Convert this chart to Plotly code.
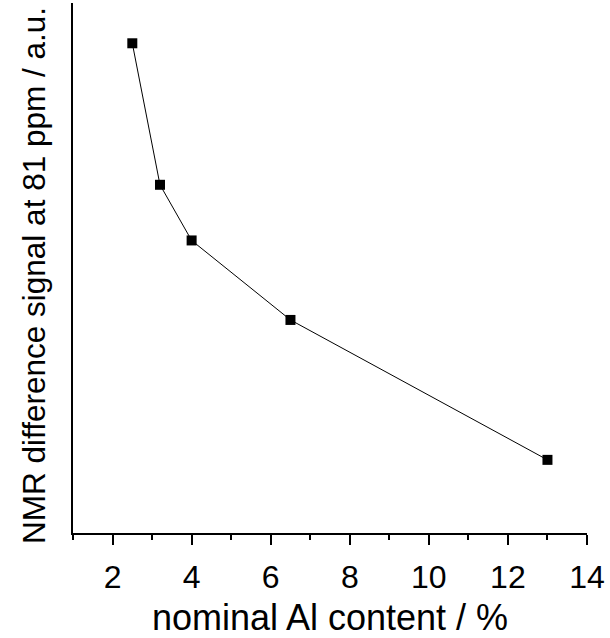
import plotly.graph_objects as go

al_content = [2.5, 3.2, 4.0, 6.5, 13.0]
nmr_signal = [92.4, 65.7, 55.2, 40.2, 13.8]
x_ticks = [2, 4, 6, 8, 10, 12, 14]

fig = go.Figure()
fig.add_trace(go.Scatter(
    x=al_content, y=nmr_signal, mode="lines+markers",
    line=dict(color="black", width=1),
    marker=dict(symbol="square", size=10, color="black"),
    showlegend=False,
))

font = "Liberation Sans, Arial, sans-serif"
fig.update_layout(
    width=610, height=638,
    margin=dict(l=73, r=23, t=3, b=105),
    paper_bgcolor="white", plot_bgcolor="white",
    font=dict(family=font, color="black"),
)
fig.update_xaxes(
    range=[1, 14], tickvals=x_ticks, ticktext=[str(t) for t in x_ticks],
    showline=True, linecolor="black", linewidth=2, showgrid=False, zeroline=False,
    ticks="outside", ticklen=10, tickwidth=2, tickcolor="black",
    tickfont=dict(size=32, family=font), ticklabelstandoff=5,
    minor=dict(ticks="outside", ticklen=5, tickwidth=2, tickcolor="black", dtick=1, tick0=1, showgrid=False),
    title=dict(text="nominal Al content / %", font=dict(size=36, family=font), standoff=14),
)
fig.update_yaxes(
    range=[0, 100], showticklabels=False, ticks="",
    showline=True, linecolor="black", linewidth=2, showgrid=False, zeroline=False,
)
fig.add_annotation(
    text="NMR difference signal at 81 ppm / a.u.", textangle=-90,
    xref="paper", yref="paper", x=0, y=0.485, xanchor="center", yanchor="middle",
    xshift=-39, showarrow=False, font=dict(size=31.5, family=font, color="black"),
)
fig.write_html("out.html")
